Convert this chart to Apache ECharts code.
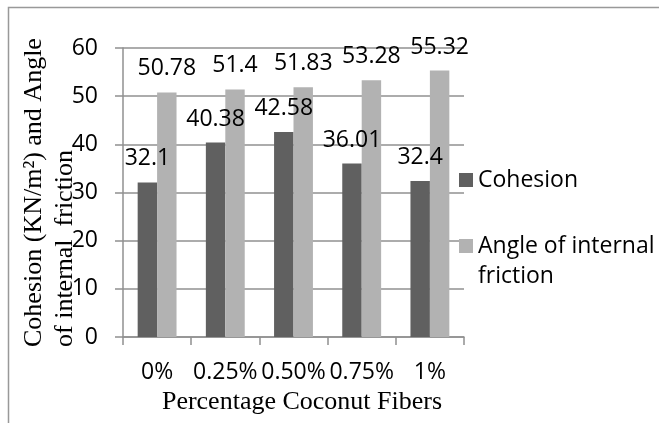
<!DOCTYPE html>
<html>
<head>
<meta charset="utf-8">
<script src="https://cdn.jsdelivr.net/npm/echarts@6/dist/echarts.min.js"></script>
<style>
html,body{margin:0;padding:0;background:#fff;}
#chart{width:659px;height:423px;}
</style>
</head>
<body>
<div id="chart"></div>
<script>
var categories = ['0%', '0.25%', '0.50%', '0.75%', '1%'];
var cohesion = [32.1, 40.38, 42.58, 36.01, 32.4];
var angle = [50.78, 51.4, 51.83, 53.28, 55.32];
var yTicks = {min: 0, max: 60, interval: 10};
var seriesNames = ['Cohesion', 'Angle of internal friction'];

var sans = '"Open Sans"';
var serif = '"Liberation Serif"';
var gray = '#909090';

var chart = echarts.init(document.getElementById('chart'), null, {renderer: 'canvas'});
chart.setOption({
  animation: false,
  backgroundColor: '#fff',
  grid: {left: 123, right: 195, top: 48, bottom: 86, containLabel: false},
  xAxis: {
    type: 'category',
    data: categories,
    axisLine: {lineStyle: {color: gray, width: 1.5}},
    axisTick: {show: true, length: 8, lineStyle: {color: gray, width: 1.5}},
    axisLabel: {interval: 0, margin: 24, fontFamily: sans, fontSize: 23, color: '#000'},
    name: 'Percentage Coconut Fibers',
    nameLocation: 'middle',
    nameGap: 51,
    nameTextStyle: {fontFamily: serif, fontSize: 26, color: '#000', padding: [0, 0, 0, 17]}
  },
  yAxis: {
    type: 'value',
    min: yTicks.min, max: yTicks.max, interval: yTicks.interval,
    axisLine: {show: true, lineStyle: {color: gray, width: 1.5}},
    axisTick: {show: true, length: 8, lineStyle: {color: gray, width: 1.5}},
    splitLine: {show: true, lineStyle: {color: gray, width: 1.5}},
    axisLabel: {margin: 25, fontFamily: sans, fontSize: 23, color: '#000'}
  },
  legend: [
    {
      data: [seriesNames[0]], left: 459, top: 165, orient: 'vertical', padding: 0,
      itemWidth: 14, itemHeight: 14, icon: 'rect', selectedMode: false,
      textStyle: {fontFamily: sans, fontSize: 23, lineHeight: 30, color: '#000'}
    },
    {
      data: [seriesNames[1]], left: 459, top: 201, orient: 'vertical', padding: 0,
      itemWidth: 14, itemHeight: 14, icon: 'rect', selectedMode: false,
      formatter: function () { return ' \nAngle of internal\nfriction'; },
      textStyle: {fontFamily: sans, fontSize: 23, lineHeight: 30, color: '#000'}
    }
  ],
  series: [
    {
      name: seriesNames[0], type: 'bar', data: cohesion,
      barGap: '0%', barCategoryGap: '43%',
      itemStyle: {color: '#606060'},
      label: {show: true, position: 'top', distance: 12, fontFamily: sans, fontSize: 23, color: '#000'}
    },
    {
      name: seriesNames[1], type: 'bar', data: angle,
      barGap: '0%', barCategoryGap: '43%',
      itemStyle: {color: '#b2b2b2'},
      label: {show: true, position: 'top', distance: 12, fontFamily: sans, fontSize: 23, color: '#000'}
    }
  ],
  graphic: [
    {
      type: 'rect', silent: true, z: -10,
      shape: {x: 8.5, y: 7.5, width: 800, height: 600},
      style: {fill: 'none', stroke: '#999999', lineWidth: 1.5}
    },
    {
      type: 'text', silent: true, x: 19, y: 347, rotation: Math.PI / 2,
      style: {
        text: 'Cohesion (KN/m\u00B2) and Angle\nof internal  friction',
        fontFamily: serif, fontSize: 26, lineHeight: 31, fill: '#000',
        align: 'left', verticalAlign: 'top', textAlign: 'left', textVerticalAlign: 'top'
      }
    }
  ]
});
</script>
</body>
</html>
